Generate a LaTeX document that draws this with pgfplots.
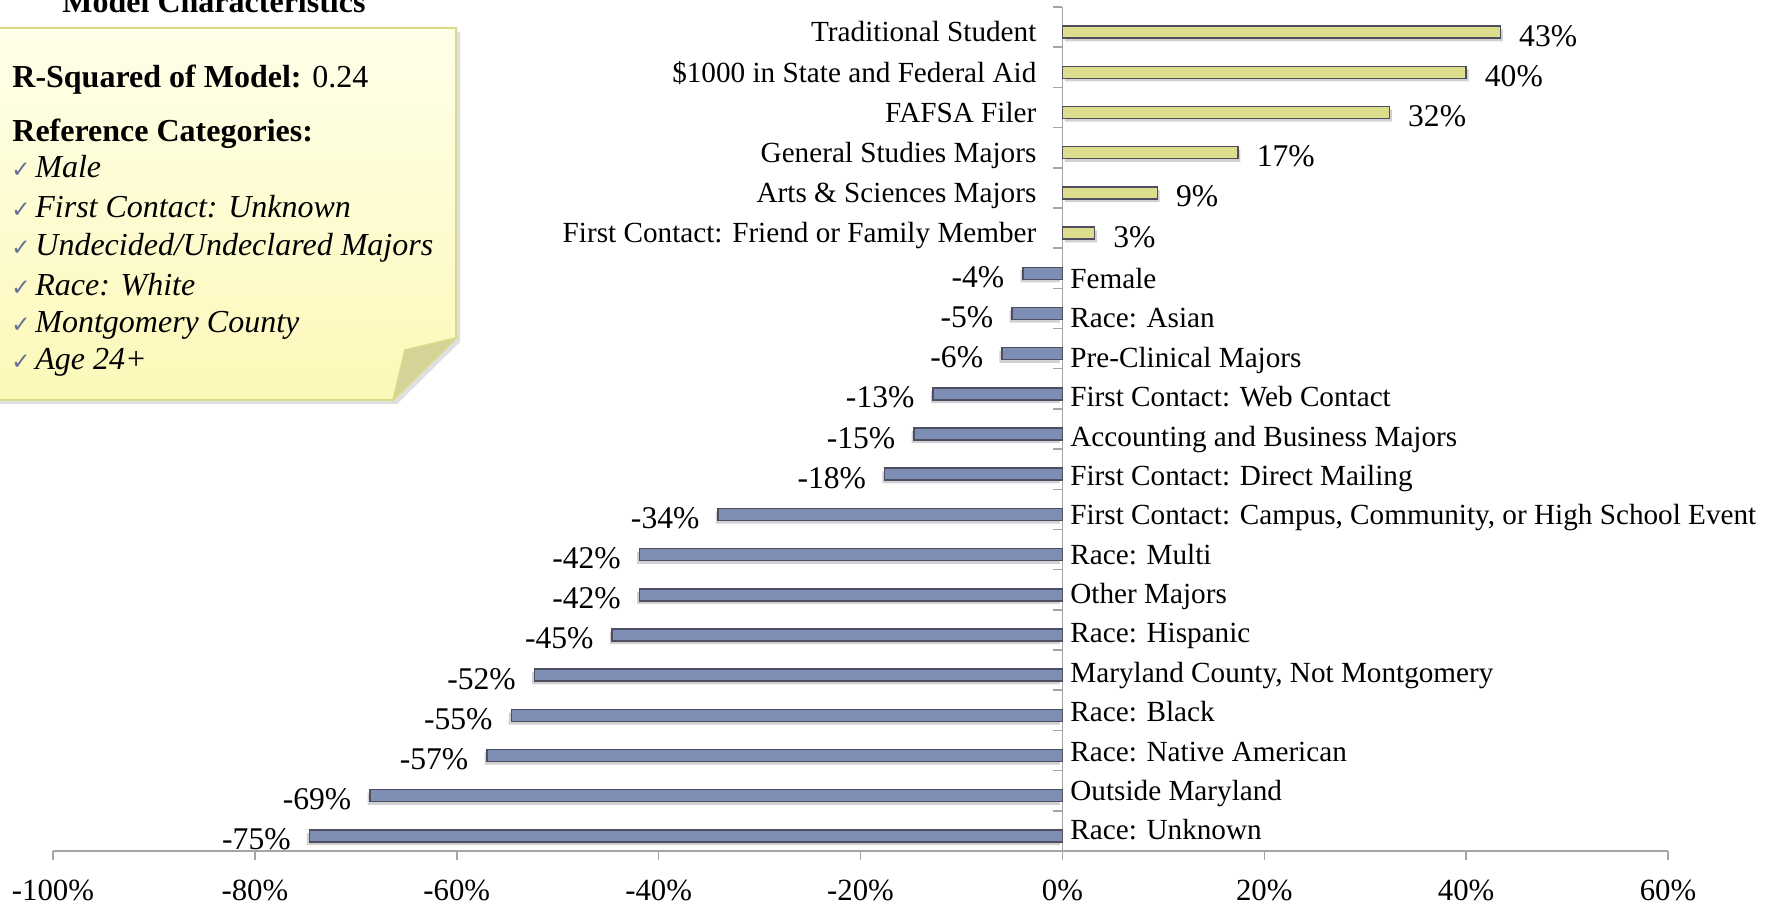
\documentclass[border=0pt]{standalone}
\usepackage{fontspec}
\setmainfont{Liberation Serif}
\newfontfamily\symfont{DejaVu Sans}
\usepackage{pgfplots}
\pgfplotsset{compat=1.18}
\usepackage{pgfplotstable}
\usetikzlibrary{shadows}

\definecolor{posc}{RGB}{220,222,142}
\definecolor{negc}{RGB}{127,142,180}
\definecolor{barline}{RGB}{78,78,96}
\definecolor{axgray}{RGB}{165,165,165}
\definecolor{noteborder}{RGB}{218,218,140}
\definecolor{notetop}{RGB}{255,255,234}
\definecolor{notebot}{RGB}{252,248,184}
\definecolor{flapc}{RGB}{214,211,152}
\definecolor{checkc}{RGB}{100,112,150}

\pgfplotstableread{
i v
15 3.2
16 9.4
17 17.4
18 32.4
19 40.0
20 43.4
}\posdata

\pgfplotstableread{
i v
0 -74.6
1 -68.6
2 -57.0
3 -54.6
4 -52.3
5 -44.6
6 -41.9
7 -41.9
8 -34.1
9 -17.6
10 -14.7
11 -12.8
12 -6.0
13 -5.0
14 -3.9
}\negdata

\newcommand{\negl}[2]{\rlap{\hspace{8.5pt}\raisebox{#1pt}{#2}}}
\newcommand{\posl}[1]{\llap{#1\hspace{8.5pt}}}
\newcommand{\lblfont}{\fontsize{14.6}{17}\selectfont}
\newcommand{\valfont}{\fontsize{15.8}{18}\selectfont}
\newcommand{\boxfont}{\fontsize{16}{19}\selectfont}
\newcommand{\chk}{{\symfont\fontsize{11.5}{13}\selectfont\color{checkc}✓}}

\begin{document}
\begin{tikzpicture}
\useasboundingbox (0,0) rectangle (887.5pt,452pt);

% title (cut off at the top)
\node[anchor=base, inner sep=0pt, font=\bfseries\boxfont] at (107pt,445.5pt) {Model Characteristics};

% note box
\draw[noteborder, line width=1pt, top color=notetop, bottom color=notebot,
      drop shadow={shadow xshift=2pt, shadow yshift=-2pt, opacity=0.25}]
  (-5pt,438pt) -- (228pt,438pt) -- (228pt,283pt) -- (196.5pt,252pt) -- (-5pt,252pt) -- cycle;
\draw[noteborder, line width=0.8pt, fill=flapc]
  (228pt,283pt) -- (202.5pt,277pt) -- (196.5pt,252pt) -- cycle;

\node[anchor=base west, inner sep=0pt, font=\boxfont] at (6pt,408pt) {\textbf{R-Squared of Model:} 0.24};
\node[anchor=base west, inner sep=0pt, font=\bfseries\boxfont] at (6pt,381pt) {Reference Categories:};
\foreach \yy/\txt in {363/Male, 343/First Contact: Unknown, 324/Undecided\slash Undeclared Majors,
                      304/Race: White, 285.5/Montgomery County, 267/Age 24+}{
  \node[anchor=base west, inner sep=0pt] at (5.5pt,\yy pt) {\chk};
  \node[anchor=base west, inner sep=0pt, font=\itshape\boxfont] at (17.5pt,\yy pt) {\txt};
}

\begin{axis}[
  at={(26.5pt,26.5pt)}, anchor=south west,
  scale only axis, width=807.5pt, height=422pt,
  xmin=-100, xmax=60, ymin=-0.375, ymax=20.625,
  xbar, bar width=6pt,
  axis x line*=bottom, axis y line*=middle,
  hide obscured x ticks=false, hide obscured y ticks=false,
  axis line style={draw=axgray, line width=0.75pt},
  xtick={-100,-80,...,60},
  xticklabels={-100\%,-80\%,-60\%,-40\%,-20\%,0\%,20\%,40\%,60\%},
  ytick={0,...,20},
  yticklabels={
    {\negl{2.9}{Race: Unknown}},
    {\negl{2.5}{Outside Maryland}},
    {\negl{2.1}{Race: Native American}},
    {\negl{1.7}{Race: Black}},
    {\negl{1.3}{Maryland County, Not Montgomery}},
    {\negl{0.9}{Race: Hispanic}},
    {\negl{0.5}{Other Majors}},
    {\negl{0.1}{Race: Multi}},
    {\negl{-0.3}{First Contact: Campus, Community, or High School Event}},
    {\negl{-0.7}{First Contact: Direct Mailing}},
    {\negl{-1.1}{Accounting and Business Majors}},
    {\negl{-1.4}{First Contact: Web Contact}},
    {\negl{-1.8}{Pre-Clinical Majors}},
    {\negl{-2.2}{Race: Asian}},
    {\negl{-2.6}{Female}},
    {\posl{First Contact: Friend or Family Member}},
    {\posl{Arts \& Sciences Majors}},
    {\posl{General Studies Majors}},
    {\posl{FAFSA Filer}},
    {\posl{\$1000 in State and Federal Aid}},
    {\posl{Traditional Student}}
  },
  minor ytick={-0.375,0.625,...,20.625},
  tick align=outside,
  major tick length=4.5pt, minor tick length=4.5pt,
  major y tick style={draw=none},
  minor y tick style={draw=axgray, line width=0.75pt},
  major x tick style={draw=axgray, line width=0.75pt},
  yticklabel style={font=\lblfont, anchor=base, inner sep=0pt, yshift=-4.9pt},
  xticklabel style={font=\fontsize{15.4}{18}\selectfont, anchor=north, inner sep=0pt, yshift=-9.8pt},
  /pgf/number format/assume math mode=true,
  /pgf/number format/fixed, /pgf/number format/precision=0,
  point meta=x,
  clip=false,
]
\addplot[draw=none, fill=black, fill opacity=0.18, bar shift=0pt, xshift=1.2pt, yshift=-1.6pt, forget plot]
  table[x=v, y=i] {\posdata};
\addplot[draw=none, fill=black, fill opacity=0.18, bar shift=0pt, xshift=-1.2pt, yshift=-1.6pt, forget plot]
  table[x=v, y=i] {\negdata};
\addplot[fill=posc, draw=barline, line width=0.75pt, bar shift=0pt,
  nodes near coords={\pgfmathprintnumber{\pgfplotspointmeta}\%},
  every node near coord/.append style={anchor=base west, inner sep=0pt, xshift=9pt, yshift=-7pt, font=\valfont, text=black}]
  table[x=v, y=i] {\posdata};
\addplot[fill=negc, draw=barline, line width=0.75pt, bar shift=0pt,
  nodes near coords={\pgfmathprintnumber{\pgfplotspointmeta}\%},
  every node near coord/.append style={anchor=base east, inner sep=0pt, xshift=-9pt, yshift=-7pt, font=\valfont, text=black}]
  table[x=v, y=i] {\negdata};
\end{axis}
\end{tikzpicture}
\end{document}
